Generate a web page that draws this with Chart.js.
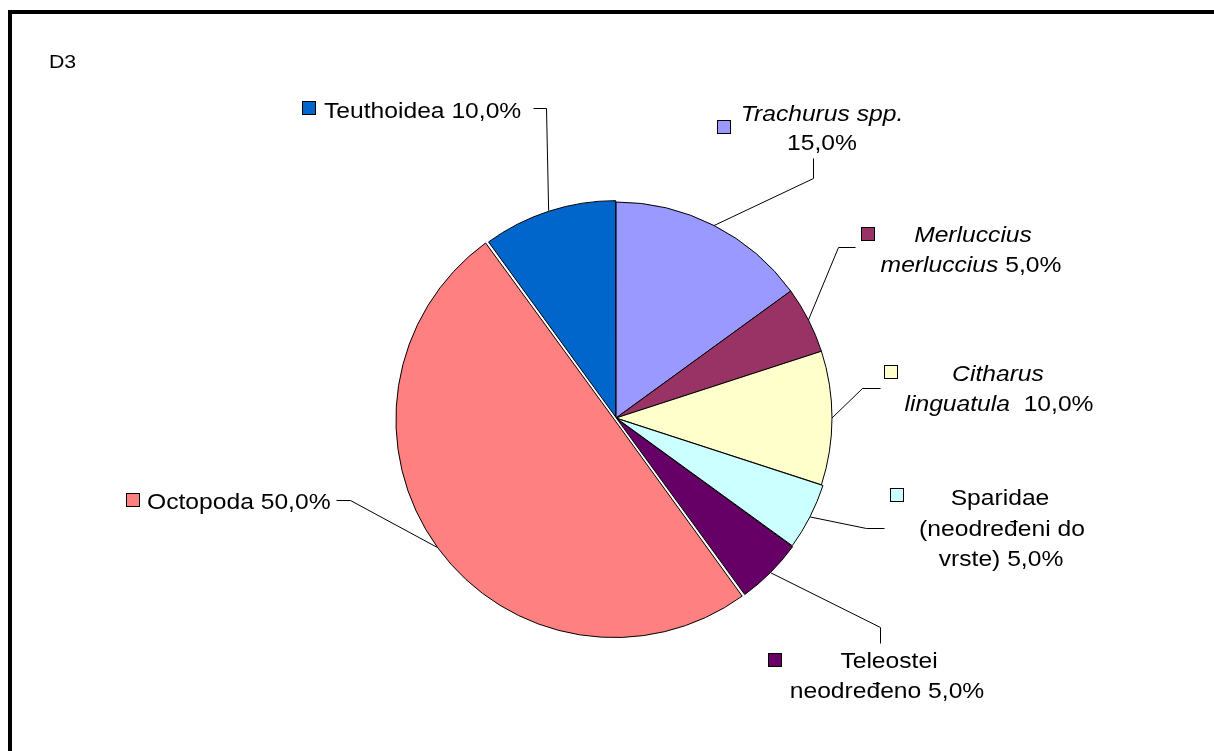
<!DOCTYPE html>
<html><head><meta charset="utf-8">
<script src="https://cdn.jsdelivr.net/npm/chart.js@4"></script>
<style>
html,body{margin:0;padding:0;background:#fff;width:1214px;height:751px;overflow:hidden}
#frame{position:absolute;left:8px;top:10px;width:1400px;height:1000px;border:4px solid #000;box-sizing:border-box}
#wrap{position:absolute;left:0;top:0;width:1214px;height:751px}
</style></head><body>
<div id="frame"></div>
<div id="wrap"><canvas id="c" width="1214" height="751"></canvas></div>
<script>
// ---- data ----
const title = "D3";
const categories = ["Trachurus spp.", "Merluccius merluccius", "Citharus linguatula",
  "Sparidae (neodređeni do vrste)", "Teleostei neodređeno", "Octopoda", "Teuthoidea"];
const shares = [15.0, 5.0, 10.0, 5.0, 5.0, 50.0, 10.0];
const colors = ["#9999FF", "#993366", "#FFFFCC", "#CCFFFF", "#660066", "#FF8080", "#0066CC"];
const sliceOffset = [0, 0, 0, 4, 6, 9, 4];   // Chart.js arc offset values
const percentLabels = shares.map(v => v.toFixed(1).replace('.', ',') + '%');

// ---- label layout (positions only) ----
const SX = 1.12;     // horizontal text stretch
const FS = 22;       // label font size
const layout = [
  {marker:[717,120], lines:[{cx:822,y:121,s:[{t:'Trachurus spp.',i:1}]},{cx:822,y:150,s:[{p:1}]}], leader:[[813,158],[813,178]]},
  {marker:[861,227], lines:[{cx:973,y:242,s:[{t:'Merluccius',i:1}]},{cx:971,y:272,s:[{t:'merluccius',i:1},{t:' '},{p:1}]}], leader:[[855,247],[838,247]]},
  {marker:[884,365], lines:[{cx:998,y:381,s:[{t:'Citharus',i:1}]},{cx:999,y:411,s:[{t:'linguatula',i:1},{t:'  '},{p:1}]}], leader:[[880,388],[862,388]]},
  {marker:[890,488], lines:[{cx:1000,y:505,s:[{t:'Sparidae'}]},{cx:1002,y:536,s:[{t:'(neodređeni do'}]},{cx:1001,y:566,s:[{t:'vrste) '},{p:1}]}], leader:[[884,528],[866,528]]},
  {marker:[768,653], lines:[{cx:889,y:668,s:[{t:'Teleostei'}]},{cx:887,y:698,s:[{t:'neodređeno '},{p:1}]}], leader:[[880,643],[880,627]]},
  {marker:[126,493], lines:[{lx:147,y:509,s:[{t:'Octopoda '},{p:1}]}], leader:[[336,500],[350,500]]},
  {marker:[302,101], lines:[{lx:324,y:118,s:[{t:'Teuthoidea '},{p:1}]}], leader:[[533,108],[546,108]]}
];

function fontOf(seg, size){ return (seg.i ? 'italic ' : '') + size + 'px "Liberation Sans", Arial, sans-serif'; }
function drawLine(ctx, segs, i, size, cx, lx, y){
  const items = segs.map(s => ({t: s.p ? percentLabels[i] : s.t, i: s.i}));
  let total = 0;
  items.forEach(it => { ctx.font = fontOf(it, size); it.w = ctx.measureText(it.t).width * SX; total += it.w; });
  let x = (lx !== undefined) ? lx : cx - total / 2;
  items.forEach(it => {
    ctx.font = fontOf(it, size);
    ctx.save(); ctx.translate(x, y); ctx.scale(SX, 1);
    ctx.fillStyle = '#000'; ctx.textBaseline = 'alphabetic'; ctx.textAlign = 'left';
    ctx.fillText(it.t, 0, 0); ctx.restore();
    x += it.w;
  });
}

const labelPlugin = {
  id: 'pieLabels',
  afterDraw(chart){
    const ctx = chart.ctx;
    const meta = chart.getDatasetMeta(0);
    ctx.save();
    drawLine(ctx, [{t: title}], 0, 19, undefined, 49, 68);
    layout.forEach((L, i) => {
      const p = meta.data[i].getProps(['x','y','startAngle','endAngle','outerRadius'], true);
      const mid = (p.startAngle + p.endAngle) / 2;
      const r = p.outerRadius + (sliceOffset[i] || 0) / 2;
      const ax = p.x + Math.cos(mid) * r, ay = p.y + Math.sin(mid) * r;
      ctx.strokeStyle = '#000'; ctx.lineWidth = 1;
      ctx.beginPath();
      ctx.moveTo(L.leader[0][0] + 0.5, L.leader[0][1] + 0.5);
      for (let k = 1; k < L.leader.length; k++) ctx.lineTo(L.leader[k][0] + 0.5, L.leader[k][1] + 0.5);
      ctx.lineTo(ax, ay);
      ctx.stroke();
      ctx.fillStyle = colors[i];
      ctx.fillRect(L.marker[0], L.marker[1], 14, 14);
      ctx.strokeRect(L.marker[0] + 0.5, L.marker[1] + 0.5, 13, 13);
      L.lines.forEach(ln => drawLine(ctx, ln.s, i, FS, ln.cx, ln.lx, ln.y));
    });
    ctx.restore();
  }
};

new Chart(document.getElementById('c'), {
  type: 'pie',
  data: {
    labels: categories,
    datasets: [{
      data: shares,
      backgroundColor: colors,
      borderColor: '#000',
      borderWidth: 1,
      offset: sliceOffset,
      radius: 216
    }]
  },
  options: {
    responsive: false,
    animation: false,
    layout: { padding: { left: 18, right: 0, top: 85, bottom: 0 } },
    plugins: { legend: { display: false }, tooltip: { enabled: false }, title: { display: false } }
  },
  plugins: [labelPlugin]
});
</script>
</body></html>
